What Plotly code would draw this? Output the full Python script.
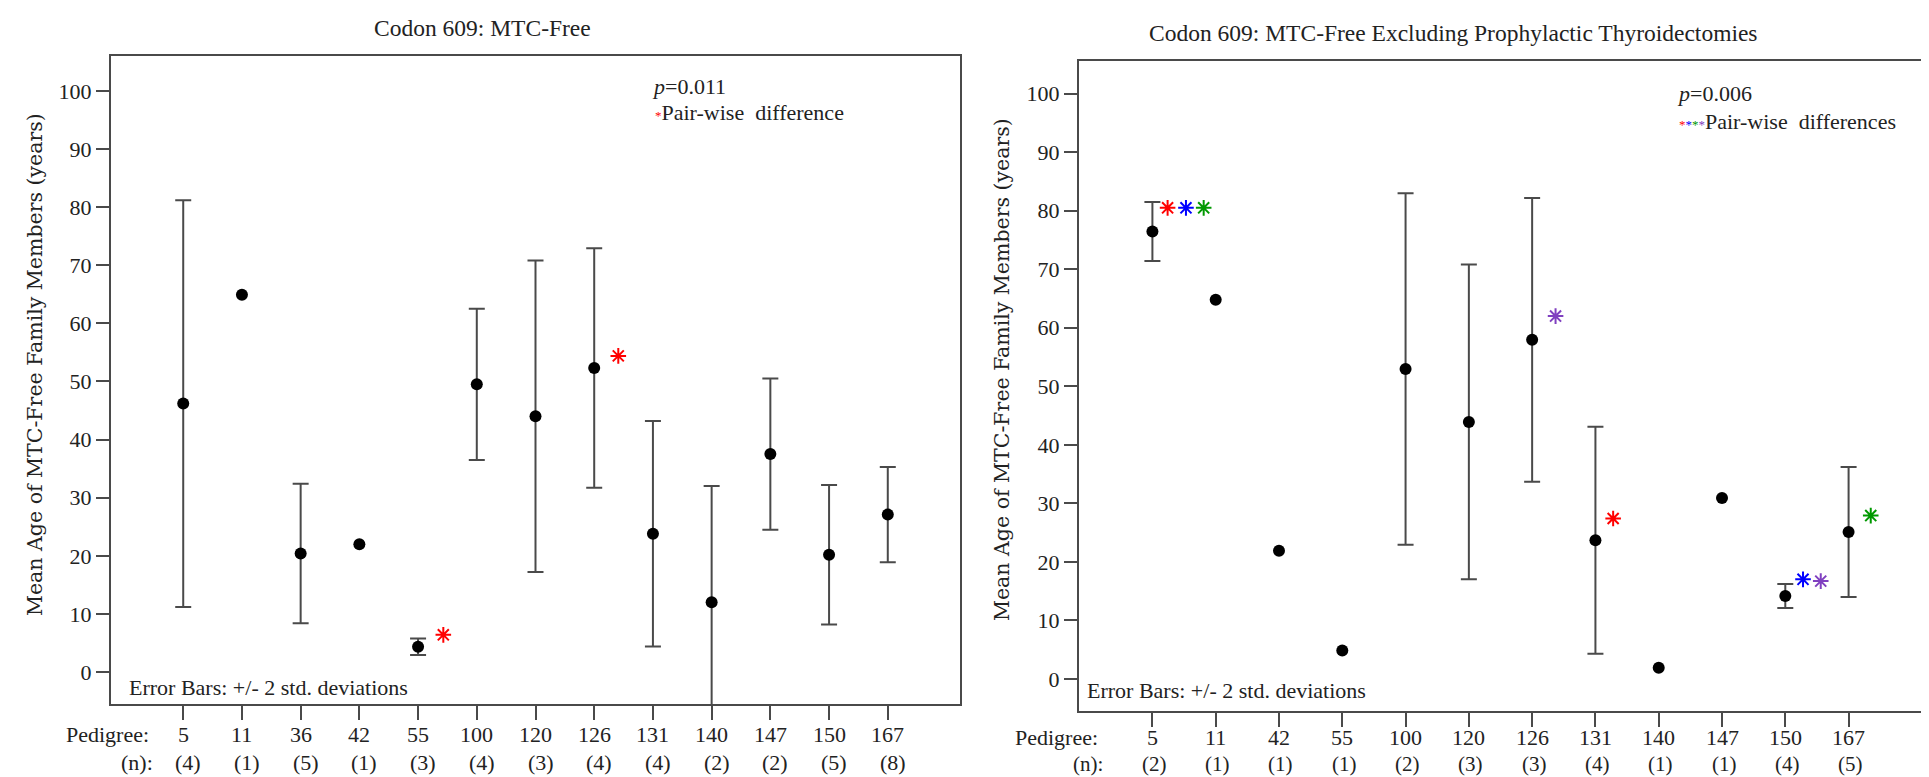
import plotly.graph_objects as go

# ---------------- data ----------------
# Left panel: Codon 609: MTC-Free
ped_left = ["5", "11", "36", "42", "55", "100", "120", "126", "131", "140", "147", "150", "167"]
n_left = [4, 1, 5, 1, 3, 4, 3, 4, 4, 2, 2, 5, 8]
mean_left = [46.2, 64.9, 20.4, 22.0, 4.35, 49.5, 44.0, 52.3, 23.8, 12.0, 37.5, 20.2, 27.1]
err_left = [35.0, 0, 12.0, 0, 1.4, 13.0, 26.8, 20.6, 19.4, 20.0, 13.0, 12.0, 8.2]
star_left_pos = [4.43, 7.41]
star_left_y = [6.4, 54.4]
star_left_col = ["#ff0000", "#ff0000"]

# Right panel: excluding prophylactic thyroidectomies
ped_right = ["5", "11", "42", "55", "100", "120", "126", "131", "140", "147", "150", "167"]
n_right = [2, 1, 1, 1, 2, 3, 3, 4, 1, 1, 4, 5]
mean_right = [76.45, 64.8, 21.9, 4.85, 52.95, 43.9, 57.95, 23.7, 1.9, 30.9, 14.15, 25.1]
err_right = [5.05, 0, 0, 0, 30.05, 26.9, 24.25, 19.4, 0, 0, 2.05, 11.1]
star_right_pos = [0.24, 0.53, 0.81, 6.37, 7.28, 10.28, 10.56, 11.35]
star_right_y = [80.5, 80.5, 80.5, 62.0, 27.4, 17.0, 16.7, 27.9]
star_right_col = ["#ff0000", "#0000ff", "#009900", "#8040c0", "#ff0000", "#0000ff", "#8040c0", "#009900"]

y_ticks = [0, 10, 20, 30, 40, 50, 60, 70, 80, 90, 100]

W, H = 1929, 777
SERIF = "Liberation Serif, Times New Roman, serif"
LINE = "#4a4a4a"
TXT = "#222"

fig = go.Figure()


def add_panel(peds, means, errs, spos, sy, scol, xa, ya):
    idx = list(range(len(peds)))
    # error bars only where a spread exists
    ex = [i for i, e in zip(idx, errs) if e > 0]
    ey = [m for m, e in zip(means, errs) if e > 0]
    ee = [e for e in errs if e > 0]
    fig.add_trace(go.Scatter(
        x=ex, y=ey, mode="markers", xaxis=xa, yaxis=ya,
        marker=dict(color="rgba(0,0,0,0)", size=1),
        error_y=dict(type="data", array=ee, visible=True, color=LINE,
                     thickness=2, width=8),
        showlegend=False, hoverinfo="skip"))
    fig.add_trace(go.Scatter(
        x=idx, y=means, mode="markers", xaxis=xa, yaxis=ya,
        marker=dict(color="black", size=12),
        showlegend=False, hoverinfo="skip"))
    fig.add_trace(go.Scatter(
        x=spos, y=sy, mode="markers", xaxis=xa, yaxis=ya,
        marker=dict(symbol="asterisk-open", size=13, color=scol,
                    line=dict(color=scol, width=2)),
        showlegend=False, hoverinfo="skip"))


add_panel(ped_left, mean_left, err_left, star_left_pos, star_left_y, star_left_col, "x", "y")
add_panel(ped_right, mean_right, err_right, star_right_pos, star_right_y, star_right_col, "x2", "y2")

ax_common = dict(showline=True, linecolor=LINE, linewidth=2, mirror=True,
                 showgrid=False, zeroline=False, ticks="outside", tickcolor=LINE,
                 tickwidth=2, tickfont=dict(family=SERIF, size=22, color=TXT))

fig.update_layout(
    width=W, height=H, margin=dict(l=0, r=0, t=0, b=0),
    paper_bgcolor="white", plot_bgcolor="white",
    xaxis=dict(domain=[103 / W, 952 / W], range=[-1.23, 13.23],
               tickvals=list(range(len(ped_left))), showticklabels=False,
               ticklen=14, anchor="y", **ax_common),
    yaxis=dict(domain=[1 - 696 / H, 1 - 48 / H], range=[-5.5, 106.0],
               tickvals=y_ticks, ticklen=13, anchor="x", **ax_common),
    xaxis2=dict(domain=[1071 / W, 1914 / W], range=[-1.16, 12.16],
                tickvals=list(range(len(ped_right))), showticklabels=False,
                ticklen=14, anchor="y2", **ax_common),
    yaxis2=dict(domain=[1 - 703 / H, 1 - 53 / H], range=[-5.5, 105.6],
                tickvals=y_ticks, ticklen=13, anchor="x2", **ax_common),
)

ann = []
def txt(x, y, s, size=22, family=SERIF, xanchor="center", angle=0, color=TXT):
    ann.append(dict(x=x / W, y=1 - y / H, xref="paper", yref="paper", text=s,
                    showarrow=False, xanchor=xanchor, yanchor="middle",
                    textangle=angle, font=dict(family=family, size=size, color=color)))

# category labels (pedigree and n rows) placed through the x axes
def cat_labels(peds, ns, xref, y_ped, y_n, nshift, nsize):
    for i, (p, n) in enumerate(zip(peds, ns)):
        ann.append(dict(x=i, xref=xref, y=1 - y_ped / H, yref="paper", text=p,
                        showarrow=False, xanchor="center", yanchor="middle",
                        font=dict(family=SERIF, size=22, color=TXT)))
        ann.append(dict(x=i, xref=xref, y=1 - y_n / H, yref="paper", text=f"({n})",
                        showarrow=False, xanchor="center", yanchor="middle", xshift=nshift,
                        font=dict(family=SERIF, size=nsize, color=TXT)))

cat_labels(ped_left, n_left, "x", 726, 754, 5, 22)
cat_labels(ped_right, n_right, "x2", 729, 756, 2, 21)

# titles
txt(474, 20, "Codon 609: MTC-Free", size=23.5)
txt(1445, 25, "Codon 609: MTC-Free Excluding Prophylactic Thyroidectomies", size=23.5)
# y-axis titles
ytitle = "Mean Age of MTC-Free Family Members (years)"
txt(27, 357, ytitle, size=20.5, family="DejaVu Serif", angle=-90)
txt(994, 361, ytitle, size=20.5, family="DejaVu Serif", angle=-90)
# p-values / legends
txt(642, 78, "<i>p</i>=0.011", xanchor="left")
txt(645, 105, "<span style='font-size:13px;color:#ff0000'>*</span>Pair-wise\u00a0 difference", xanchor="left")
txt(1667, 85, "<i>p</i>=0.006", xanchor="left")
txt(1669, 113, "<span style='font-size:13px;color:#ff0000'>*</span>"
               "<span style='font-size:13px;color:#0000ff'>*</span>"
               "<span style='font-size:13px;color:#009900'>*</span>"
               "<span style='font-size:13px;color:#8040c0'>*</span>Pair-wise\u00a0 differences", xanchor="left")
# error bar notes
txt(119, 679, "Error Bars: +/- 2 std. deviations", xanchor="left")
txt(1077, 682, "Error Bars: +/- 2 std. deviations", xanchor="left")
# row labels
txt(143, 726, "Pedigree:", xanchor="right")
txt(147, 754, "(n):", xanchor="right")
txt(1092, 729, "Pedigree:", xanchor="right")
txt(1097, 756, "(n):", size=21, xanchor="right")

fig.update_layout(annotations=ann)
fig.write_html("out.html")
